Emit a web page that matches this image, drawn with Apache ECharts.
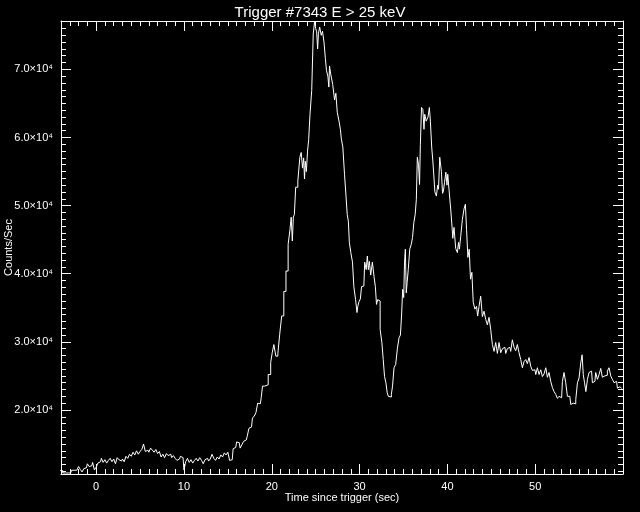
<!DOCTYPE html>
<html><head><meta charset="utf-8">
<script src="https://cdn.jsdelivr.net/npm/echarts@6/dist/echarts.min.js"></script>
<style>html,body{margin:0;background:#000}#c{width:640px;height:512px}</style>
</head><body><div id="c"></div>
<script>
const titleText = 'Trigger #7343 E > 25 keV';
const xName = 'Time since trigger (sec)';
const yName = 'Counts/Sec';

// time (s) of each traced step
const times = [
-4.1,-3.9,-3.7,-3.5,-3.3,-3.1,-2.9,-2.7,-2.5,-2.3,-2.1,-1.9,-1.7,-1.5,-1.3,-1.1,-0.9,-0.7,-0.5,-0.3,-0.1,
0.1,0.3,0.5,0.7,0.9,1.1,1.3,1.5,1.7,1.9,2.1,2.3,2.5,2.7,2.9,3.1,3.3,3.5,3.7,3.9,
4.1,4.3,4.5,4.7,4.9,5.1,5.3,5.5,5.7,5.9,6.1,6.3,6.5,6.7,6.9,7.1,7.3,7.5,7.7,7.9,
8.1,8.3,8.5,8.7,8.9,9.1,9.3,9.5,9.7,9.9,10.1,10.3,10.5,10.7,10.9,11.1,11.3,11.5,11.7,11.9,
12.1,12.3,12.5,12.7,12.9,13.1,13.3,13.5,13.7,13.9,14.1,14.3,14.5,14.7,14.9,15.1,15.3,15.5,15.7,15.9,
16.1,16.3,16.5,16.7,16.9,17.1,17.3,17.5,17.7,17.9,18.1,18.3,18.5,18.7,18.9,
19.0,19.41,19.78,19.98,20.13,20.35,20.58,20.81,21.0,21.26,21.49,21.75,21.98,22.14,22.29,22.40,22.52,22.63,22.82,
23.12,23.28,23.43,23.58,23.69,23.77,23.88,24.0,24.15,24.26,24.45,24.65,24.80,24.95,25.06,25.17,25.28,25.36,25.56,
25.71,25.85,26.05,26.16,26.31,26.47,26.54,26.62,26.81,27.07,27.24,27.36,27.56,27.76,27.87,27.98,28.21,28.36,28.52,
28.67,28.78,28.89,29.12,29.27,29.43,29.66,29.75,29.84,30.03,30.15,30.30,30.49,30.68,30.83,30.94,31.06,31.17,31.37,
31.55,31.74,31.86,32.0,32.14,32.23,32.46,32.62,32.77,32.92,33.08,33.22,33.34,33.45,33.56,33.68,33.83,34.02,34.21,
34.40,34.59,34.71,34.85,34.97,35.08,35.16,35.27,35.36,35.47,35.62,35.81,35.96,36.10,36.26,36.41,36.52,36.64,36.79,
36.87,36.98,37.13,37.29,37.38,37.47,37.70,37.89,38.01,38.12,38.31,38.40,38.50,38.66,38.84,38.95,39.03,39.23,39.41,
39.49,39.60,39.75,39.91,40.0,40.09,40.28,40.48,40.57,40.66,40.85,41.05,41.23,41.31,41.42,41.62,41.80,41.99,42.11,
42.26,42.41,42.56,42.71,42.87,43.02,43.25,43.39,43.51,43.70,43.89,44.08,44.27,44.46,44.65,44.84,45.03,45.22,45.41,
45.60,45.79,45.98,46.17,46.36,46.55,46.74,46.92,47.12,47.31,47.49,47.69,47.88,48.06,48.26,48.45,48.63,48.83,49.02,
49.20,49.40,49.59,49.77,49.97,50.16,50.34,50.54,50.73,50.91,51.11,51.30,51.48,51.67,51.87,52.05,52.24,52.44,52.62,
52.81,53.01,53.19,53.38,53.58,53.76,53.95,54.15,54.33,54.52,54.72,54.90,55.09,55.29,55.40,55.55,55.69,55.86,56.04,
56.23,56.42,56.61,56.80,56.99,57.18,57.37,57.56,57.74,57.93,58.13,58.31,58.51,58.70,58.88,59.08,59.27,59.46,59.65,59.84
];

// counts/sec of each traced step
const counts = [
11100,11100,10750,10750,10750,10750,10750,11150,11150,11150,11150,11700,11250,10900,11400,11500,12100,11700,11800,12300,11200,
11600,12200,12400,12900,12300,12700,12200,12600,12900,12400,12800,12100,13000,12700,12500,12800,12400,13200,12900,13500,
13200,13800,13400,14000,13500,13900,14200,15000,13900,14100,13800,14400,14100,13800,14200,13600,13900,13100,13500,13000,
13600,13300,13500,13000,13300,12900,12600,12800,13200,13000,11200,12400,12900,12300,12700,12200,12600,12900,12500,13000,
12600,12100,12700,12900,12500,12800,13500,12900,12600,13100,12800,13400,13100,13700,13400,13800,12600,12700,14300,14500,
15300,15200,14400,14900,15400,15600,16100,17300,17500,18800,19100,19600,21000,20900,21800,
23500,23700,25200,27000,28400,29600,27900,28300,31100,33800,37400,40400,44300,46300,48300,44800,48300,48700,52700,
53600,57100,57800,55500,57000,53900,56500,55000,58000,59700,63400,66900,75200,77000,76000,75500,73000,75300,76200,
75000,75600,74000,71600,69800,69000,67400,70500,69300,67800,65500,66500,63700,62400,61200,59800,58600,54600,51700,
48700,47700,44600,43100,41700,38100,36200,34300,35200,35900,36300,38100,38200,41700,40600,42600,40600,41800,39800,
41700,39600,38100,35500,36200,36000,31800,29900,27400,24900,24000,22500,22000,22200,21900,22300,23500,26200,26700,
29000,30600,31000,33800,37700,36500,41700,43600,37200,38700,40600,43600,44300,45300,47500,48700,50900,57100,56000,
53100,59000,64400,64100,61200,63400,62400,63000,64400,62400,58600,56400,56400,52000,51400,53000,52400,57100,55000,
51800,52100,53400,54900,53000,54600,52400,49500,47000,45200,46800,43700,43100,44600,43600,45500,48000,49500,50200,
46500,42400,43600,39200,40200,35800,34800,35200,33800,35200,36700,33700,34500,33300,32500,33600,31800,29600,28600,
29900,28300,29900,28400,29000,29200,28300,29000,29200,28600,30300,29200,28700,29600,28400,27400,26200,27100,27400,
26800,27700,26400,25800,25900,25200,26200,25200,25900,24900,25300,26200,24800,25500,24200,23300,22700,22300,21700,
22000,21800,24200,25500,24000,22000,22000,20800,21000,20900,21500,24000,24700,26900,28100,25200,24000,22700,24500,
25500,25700,24000,24200,25500,24500,25200,26100,24800,25000,25100,25700,26200,25000,24500,24000,24200,23200,23400,23200
];

const xRange = [-4, 60];
const yRange = [10600, 77100];
const xMajor = 10, xMinor = 1;
const yMajor = 10000, yMinor = 1000;

const FONT = 'Liberation Sans';
const WHITE = '#ffffff';

function xAx(pos, major, withLabels) {
  const step = major ? xMajor : xMinor;
  return {
    type: 'value', position: pos, min: xRange[0], max: xRange[1],
    minInterval: step, maxInterval: step,
    splitNumber: Math.round((xRange[1] - xRange[0]) / step),
    axisLine: { show: major, onZero: false, lineStyle: { color: WHITE, width: 1 } },
    axisTick: { show: true, inside: true, length: major ? 10 : 5, lineStyle: { color: WHITE, width: 1 } },
    axisLabel: withLabels ? {
      show: true, color: WHITE, fontFamily: FONT, fontSize: 11, margin: 7,
      showMinLabel: false, showMaxLabel: false,
      formatter: v => String(Math.round(v))
    } : { show: false },
    splitLine: { show: false },
    name: withLabels ? xName : '', nameLocation: 'middle', nameGap: 18, nameMoveOverlap: false,
    nameTextStyle: { color: WHITE, fontFamily: FONT, fontSize: 11 }
  };
}
function yAx(pos, major, withLabels) {
  const step = major ? yMajor : yMinor;
  return {
    type: 'value', position: pos, min: yRange[0], max: yRange[1],
    minInterval: step, maxInterval: step,
    splitNumber: Math.round((yRange[1] - yRange[0]) / step),
    axisLine: { show: major, onZero: false, lineStyle: { color: WHITE, width: 1 } },
    axisTick: { show: true, inside: true, length: major ? 10 : 5, lineStyle: { color: WHITE, width: 1 } },
    axisLabel: withLabels ? {
      show: true, color: WHITE, fontFamily: FONT, fontSize: 11, margin: 8,
      showMinLabel: false, showMaxLabel: false,
      formatter: v => (v / 10000).toFixed(1) + '\u00d710\u2074'
    } : { show: false },
    splitLine: { show: false },
    name: withLabels ? yName : '', nameLocation: 'middle', nameGap: 47, nameRotate: 90, nameMoveOverlap: false,
    nameTextStyle: { color: WHITE, fontFamily: FONT, fontSize: 11 }
  };
}

const chart = echarts.init(document.getElementById('c'), null, { renderer: 'canvas' });
chart.setOption({
  backgroundColor: '#000000',
  animation: false,
  title: {
    text: titleText, left: 'center', top: 0,
    textStyle: { color: WHITE, fontFamily: FONT, fontSize: 15, fontWeight: 'normal' }
  },
  grid: { left: 61, right: 17, top: 21, bottom: 38, containLabel: false, outerBoundsMode: 'none' },
  xAxis: [xAx('bottom', true, true), xAx('bottom', false, false), xAx('top', true, false), xAx('top', false, false)],
  yAxis: [yAx('left', true, true), yAx('left', false, false), yAx('right', true, false), yAx('right', false, false)],
  series: [{
    type: 'line', xAxisIndex: 0, yAxisIndex: 0,
    step: 'middle', showSymbol: false, symbol: 'none',
    lineStyle: { color: WHITE, width: 1 },
    data: times.map((t, i) => [t, counts[i]])
  }]
});
</script>
</body></html>
